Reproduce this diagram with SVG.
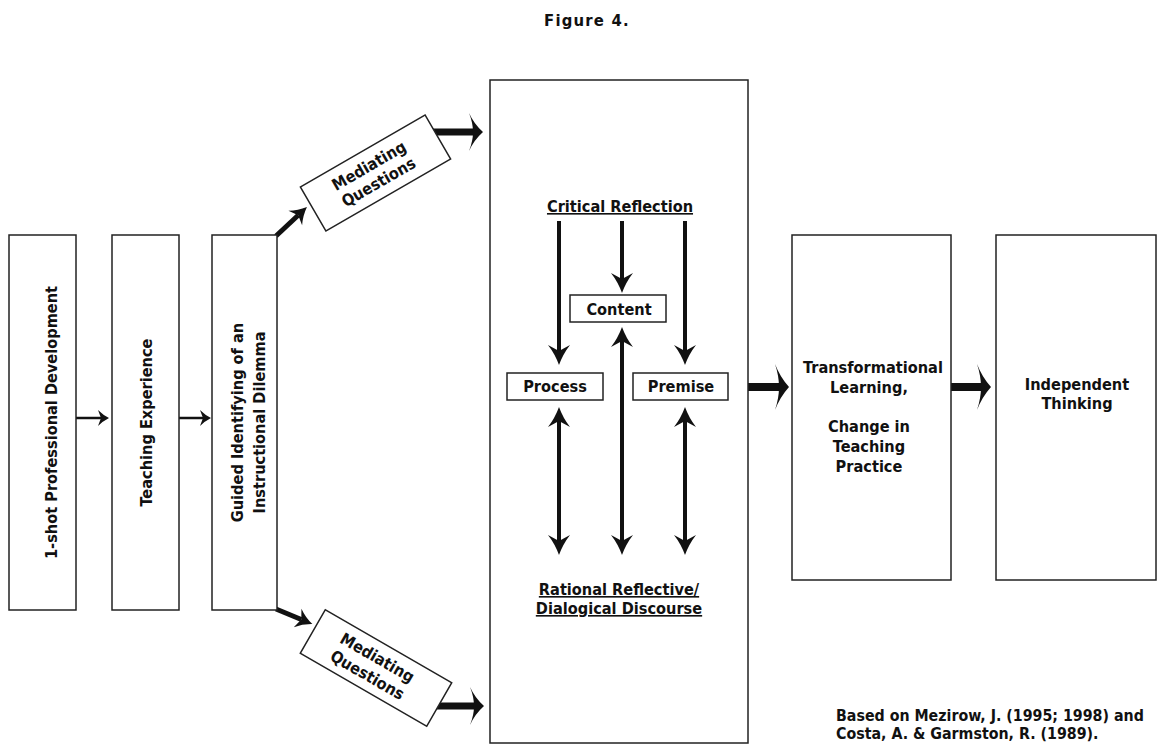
<svg xmlns="http://www.w3.org/2000/svg" width="1162" height="745" viewBox="0 0 1162 745">
<style>
text{font-family:"DejaVu Sans Condensed","DejaVu Sans",Verdana,sans-serif;font-stretch:condensed;font-weight:bold;font-size:16.2px;fill:#111;text-anchor:middle}
.box{fill:#fff;stroke:#222;stroke-width:1.5}
.ln{fill:none;stroke:#111}
.ul{text-decoration:underline}
.foot{text-anchor:start;font-size:15.8px}
</style>
<defs>
<marker id="ahThin" markerUnits="userSpaceOnUse" markerWidth="11" markerHeight="16" refX="3" refY="8" orient="auto-start-reverse" overflow="visible"><path d="M11,8 Q5,5 0,0 L3,8 L0,16 Q5,11 11,8 Z" fill="#111"/></marker>
<marker id="ahMid" markerUnits="userSpaceOnUse" markerWidth="16" markerHeight="20" refX="4" refY="10" orient="auto-start-reverse" overflow="visible"><path d="M16,10 Q7,6.5 0,0 L4,10 L0,20 Q7,13.5 16,10 Z" fill="#111"/></marker>
<marker id="ahDbl" markerUnits="userSpaceOnUse" markerWidth="20" markerHeight="22" refX="6" refY="11" orient="auto-start-reverse" overflow="visible"><path d="M20,11 Q9,7 0,0 L6,11 L0,22 Q9,15 20,11 Z" fill="#111"/></marker>
<marker id="ahBig" markerUnits="userSpaceOnUse" markerWidth="14" markerHeight="46" refX="4" refY="23" orient="auto-start-reverse" overflow="visible"><path d="M14,23 Q5,13 0,0 Q4,12 4,23 Q4,34 0,46 Q5,33 14,23 Z" fill="#111"/></marker>
<marker id="ahBig2" markerUnits="userSpaceOnUse" markerWidth="14" markerHeight="38" refX="4" refY="19" orient="auto-start-reverse" overflow="visible"><path d="M14,19 Q5,11 0,0 Q4,10 4,19 Q4,28 0,38 Q5,27 14,19 Z" fill="#111"/></marker>
</defs>

<text x="587" y="26" style="font-size:16.5px;letter-spacing:1.2px">Figure 4.</text>

<g id="connectors">
<line class="ln" x1="76" y1="418" x2="101" y2="418" stroke-width="2.5" marker-end="url(#ahThin)"/>
<line class="ln" x1="179" y1="418" x2="203" y2="418" stroke-width="2.5" marker-end="url(#ahThin)"/>
<line class="ln" x1="276" y1="236" x2="298.2" y2="215.2" stroke-width="5" marker-end="url(#ahMid)"/>
<line class="ln" x1="276" y1="609" x2="301.3" y2="619.5" stroke-width="5" marker-end="url(#ahMid)"/>
<line class="ln" x1="430" y1="132" x2="473" y2="132" stroke-width="7" marker-end="url(#ahBig2)"/>
<line class="ln" x1="430" y1="706" x2="474" y2="706" stroke-width="7" marker-end="url(#ahBig2)"/>
<line class="ln" x1="748" y1="387" x2="779" y2="387" stroke-width="8" marker-end="url(#ahBig)"/>
<line class="ln" x1="951" y1="387" x2="981" y2="387" stroke-width="8" marker-end="url(#ahBig)"/>
<line class="ln" x1="559" y1="221" x2="559" y2="351" stroke-width="4" marker-end="url(#ahDbl)"/>
<line class="ln" x1="622" y1="221" x2="622" y2="279" stroke-width="4" marker-end="url(#ahDbl)"/>
<line class="ln" x1="685" y1="221" x2="685" y2="351" stroke-width="4" marker-end="url(#ahDbl)"/>
<line class="ln" x1="559" y1="421" x2="559" y2="541" stroke-width="4" marker-start="url(#ahDbl)" marker-end="url(#ahDbl)"/>
<line class="ln" x1="622" y1="341" x2="622" y2="541" stroke-width="4" marker-start="url(#ahDbl)" marker-end="url(#ahDbl)"/>
<line class="ln" x1="685" y1="421" x2="685" y2="541" stroke-width="4" marker-start="url(#ahDbl)" marker-end="url(#ahDbl)"/>
</g>

<g id="n-pd">
<rect class="box" x="9" y="235" width="67" height="375"/>
<text transform="translate(57,422.5) rotate(-90)">1-shot Professional Development</text>
</g>
<g id="n-te">
<rect class="box" x="112" y="235" width="67" height="375"/>
<text transform="translate(152,422.5) rotate(-90)">Teaching Experience</text>
</g>
<g id="n-gi">
<rect class="box" x="212" y="235" width="65" height="375"/>
<text transform="translate(243,422.5) rotate(-90)">Guided Identifying of an</text>
<text transform="translate(265,422.5) rotate(-90)">Instructional Dilemma</text>
</g>
<g id="n-mq1" transform="translate(375.5,173) rotate(-30)">
<rect class="box" x="-72" y="-25.5" width="144" height="51"/>
<text x="-2" y="-4">Mediating</text>
<text x="-2" y="15">Questions</text>
</g>
<g id="n-mq2" transform="translate(376,668) rotate(30)">
<rect class="box" x="-73" y="-25" width="146" height="50"/>
<text x="-4" y="-4">Mediating</text>
<text x="-4" y="16">Questions</text>
</g>
<g id="n-center">
<rect class="box" x="490" y="80" width="258" height="663" style="fill:none"/>
<text class="ul" x="620" y="212">Critical Reflection</text>
<text class="ul" x="619" y="595">Rational Reflective/</text>
<text class="ul" x="619" y="614">Dialogical Discourse</text>
</g>
<g id="n-content">
<rect class="box" x="570" y="295" width="96" height="27"/>
<text x="619" y="315">Content</text>
</g>
<g id="n-process">
<rect class="box" x="507" y="373" width="96" height="27"/>
<text x="555" y="392">Process</text>
</g>
<g id="n-premise">
<rect class="box" x="633" y="373" width="95" height="27"/>
<text x="681" y="392">Premise</text>
</g>
<g id="n-tl">
<rect class="box" x="792" y="235" width="159" height="345"/>
<text x="873" y="373">Transformational</text>
<text x="869" y="393">Learning,</text>
<text x="869" y="432">Change in</text>
<text x="869" y="452">Teaching</text>
<text x="869" y="472">Practice</text>
</g>
<g id="n-it">
<rect class="box" x="996" y="235" width="160" height="345"/>
<text x="1077" y="390">Independent</text>
<text x="1077" y="409">Thinking</text>
</g>
<g id="footer">
<text class="foot" x="836" y="721">Based on Mezirow, J. (1995; 1998) and</text>
<text class="foot" x="836" y="739">Costa, A. &amp; Garmston, R. (1989).</text>
</g>
</svg>
